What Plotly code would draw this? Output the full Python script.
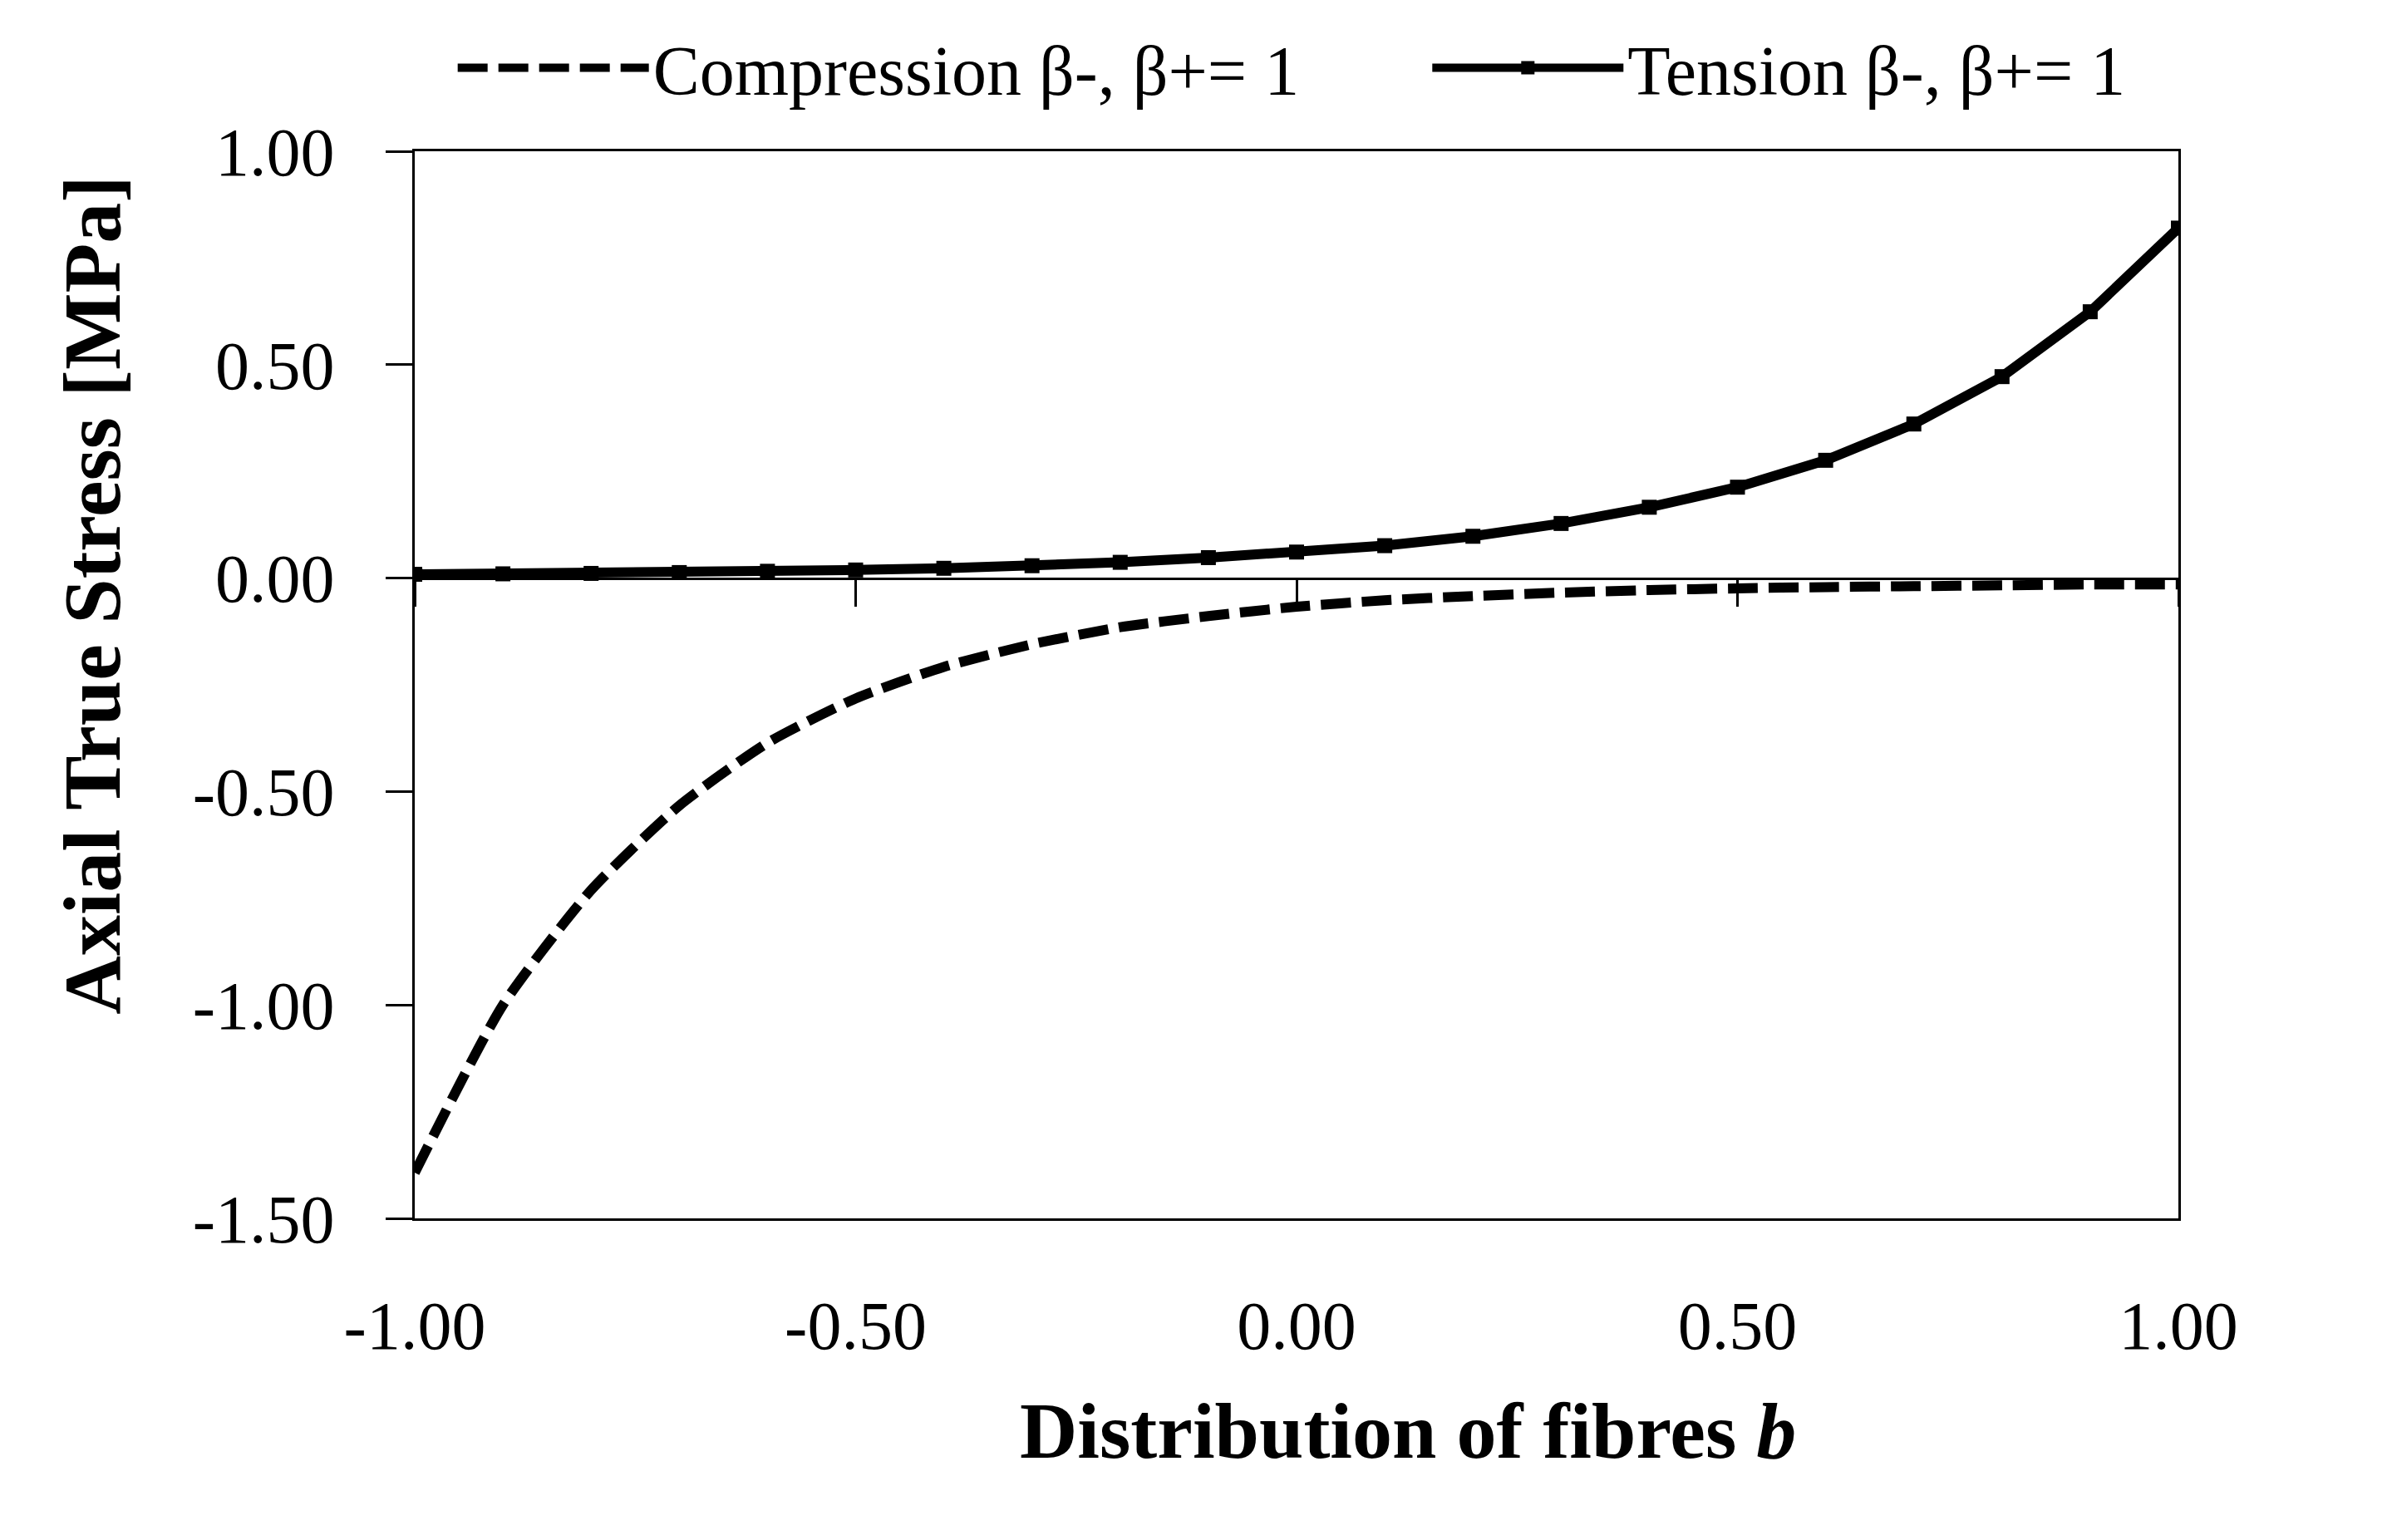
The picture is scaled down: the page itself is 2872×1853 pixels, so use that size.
import plotly.graph_objects as go

# ---- data ----
b_values = [-1.0, -0.9, -0.8, -0.7, -0.6, -0.5, -0.4, -0.3, -0.2, -0.1, 0.0,
            0.1, 0.2, 0.3, 0.4, 0.5, 0.6, 0.7, 0.8, 0.9, 1.0]
compression = [-1.393, -1.000, -0.731, -0.533, -0.386, -0.282, -0.208, -0.155,
               -0.115, -0.089, -0.067, -0.052, -0.042, -0.034, -0.028, -0.024,
               -0.021, -0.019, -0.017, -0.015, -0.015]
tension = [0.009, 0.010, 0.011, 0.013, 0.016, 0.019, 0.023, 0.029, 0.037, 0.048,
           0.061, 0.076, 0.098, 0.128, 0.166, 0.213, 0.276, 0.361, 0.472, 0.624, 0.820]

series_names = ["Compression \u03b2-, \u03b2+= 1", "Tension \u03b2-, \u03b2+= 1"]
x_tick_vals = [-1.0, -0.5, 0.0, 0.5, 1.0]
x_tick_text = ["-1.00", "-0.50", "0.00", "0.50", "1.00"]
y_tick_vals = [-1.5, -1.0, -0.5, 0.0, 0.5, 1.0]
y_tick_text = ["-1.50", "-1.00", "-0.50", "0.00", "0.50", "1.00"]
x_title = "<b>Distribution of fibres <i>b</i></b>"
y_title = "<b>Axial True Stress [MPa]</b>"

FONT = "Liberation Serif"

fig = go.Figure()
fig.add_trace(go.Scatter(
    x=b_values, y=compression, name=series_names[0], mode="lines",
    xaxis="x", yaxis="y", legend="legend",
    line=dict(color="black", width=12, dash="36px,13px", shape="spline", smoothing=0.6),
))
fig.add_trace(go.Scatter(
    x=b_values, y=tension, name=series_names[1], mode="lines+markers",
    xaxis="x2", yaxis="y", legend="legend2",
    line=dict(color="black", width=12),
    marker=dict(symbol="square", size=18, color="black"),
))

legend_common = dict(
    orientation="h", xanchor="left", y=1.078, yanchor="middle",
    font=dict(family=FONT, size=84, color="black"),
    itemwidth=230, bgcolor="rgba(0,0,0,0)",
)

# figure is 16 px smaller than the window to allow for the page's 8 px body margin
fig.update_layout(
    width=2856, height=1837,
    margin=dict(l=491, r=243, t=166, b=379, pad=0),
    paper_bgcolor="white", plot_bgcolor="white",
    font=dict(family=FONT, size=82, color="black"),
    showlegend=True,
    legend=dict(x=0.022, **legend_common),
    legend2=dict(x=0.5746, **legend_common),
    xaxis=dict(
        range=[-1, 1], showline=True, mirror=True, linewidth=3, linecolor="black",
        ticks="", tickvals=x_tick_vals, ticktext=x_tick_text,
        tickfont=dict(family=FONT, size=82, color="black"),
        ticklabelstandoff=56,
        showgrid=False, zeroline=False,
    ),
    xaxis2=dict(
        overlaying="x", anchor="free", position=0.6, side="bottom",
        range=[-1, 1], showline=True, linewidth=3, linecolor="black",
        ticks="outside", ticklen=32, tickwidth=3, tickcolor="black",
        tickvals=x_tick_vals, showticklabels=False,
        showgrid=False, zeroline=False, layer="below traces",
    ),
    yaxis=dict(
        range=[-1.5, 1.0], showline=True, mirror=True, linewidth=3, linecolor="black",
        ticks="outside", ticklen=32, tickwidth=3, tickcolor="black",
        tickvals=y_tick_vals, ticktext=y_tick_text,
        tickfont=dict(family=FONT, size=82, color="black"),
        ticklabelstandoff=45,
        showgrid=False, zeroline=False,
    ),
    annotations=[
        dict(text=y_title, xref="paper", yref="paper", x=-0.183, y=0.584,
             textangle=-90, showarrow=False, xanchor="center", yanchor="middle",
             font=dict(family=FONT, size=98, color="black")),
        dict(text=x_title, xref="paper", yref="paper", x=0.563, y=-0.199,
             showarrow=False, xanchor="center", yanchor="middle",
             font=dict(family=FONT, size=96, color="black")),
    ],
)

fig.write_html("out.html")
